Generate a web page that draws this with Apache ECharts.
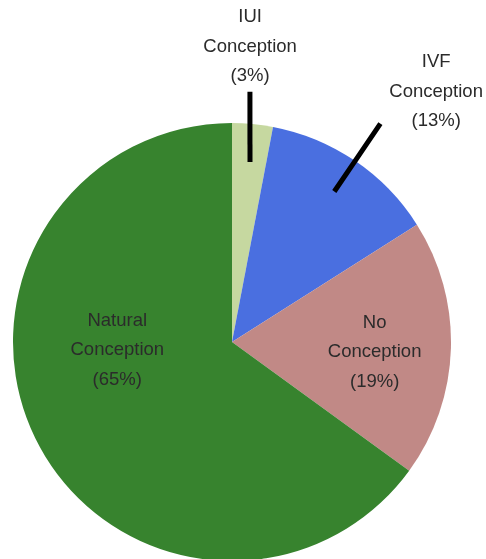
<!DOCTYPE html>
<html>
<head>
    <meta charset="UTF-8" />
    <title>conception outcome</title>
    <script src="https://cdn.jsdelivr.net/npm/echarts@6/dist/echarts.min.js"></script>
    <style>
        html, body { margin: 0; padding: 0; background: #fff; }
        #main { width: 486px; height: 559px; }
    </style>
</head>
<body>
    <div id="main"></div>
    <script>
        var categories = ['IUI\nConception', 'IVF\nConception', 'No\nConception', 'Natural\nConception'];
        var shares = [3, 13, 19, 65];
        var sliceColors = ['#c6d8a0', '#4a6fe0', '#c18986', '#37832e'];

        // pie geometry (px)
        var CX = 232, CY = 342, R = 219;
        // label centre: angle (deg clockwise from 12 o'clock) + distance from centre
        // lineFrom / lineTo: radial extent of the black leader line (optional own angles)
        var labelSpots = [
            { a: 3.5, d: 296, lineFrom: 181, lineTo: 251, aFrom: 5.7, aTo: 4.1 },
            { a: 39.2, d: 323, lineFrom: 182, lineTo: 264 },
            { a: 94, d: 143 },
            { a: 266, d: 115 }
        ];

        var total = shares.reduce(function (s, v) { return s + v; }, 0);
        var midAngle = [];
        var acc = 0;
        shares.forEach(function (v) {
            midAngle.push((acc + v / 2) / total * 360);
            acc += v;
        });

        function pt(angDeg, d) {
            var t = angDeg * Math.PI / 180;
            return [CX + d * Math.sin(t), CY - d * Math.cos(t)];
        }

        var base = {
            type: 'pie',
            center: [CX, CY],
            radius: R,
            startAngle: 90,
            clockwise: true,
            avoidLabelOverlap: false,
            emphasis: { disabled: true }
        };

        var myChart = echarts.init(document.getElementById('main'));
        var option = {
            animation: false,
            series: [
                // the slices
                Object.assign({}, base, {
                    z: 2,
                    label: { show: false },
                    labelLine: { show: false },
                    itemStyle: { borderWidth: 0 },
                    data: categories.map(function (name, i) {
                        return { name: name, value: shares[i], itemStyle: { color: sliceColors[i] } };
                    })
                }),
                // transparent copy on top, carrying labels + leader lines so the lines sit above the slices
                Object.assign({}, base, {
                    z: 3,
                    silent: true,
                    itemStyle: { color: 'rgba(0,0,0,0)', borderWidth: 0 },
                    label: {
                        show: true,
                        position: 'outside',
                        formatter: '{b}\n({c}%)',
                        color: '#2b2b2b',
                        fontFamily: 'Liberation Sans',
                        fontSize: 18.5,
                        lineHeight: 29.5,
                        align: 'center'
                    },
                    labelLine: {
                        show: true,
                        smooth: false,
                        lineStyle: { color: '#000', width: 5 }
                    },
                    labelLayout: function (p) {
                        var s = labelSpots[p.dataIndex];
                        var c = pt(s.a, s.d);
                        var out = { x: c[0], y: c[1], align: 'center', verticalAlign: 'middle' };
                        if (s.lineFrom) {
                            var m = midAngle[p.dataIndex];
                            var a = pt(s.aFrom != null ? s.aFrom : m, s.lineFrom);
                            var b = pt(s.aTo != null ? s.aTo : m, s.lineTo);
                            out.labelLinePoints = [a, [(a[0] + b[0]) / 2, (a[1] + b[1]) / 2], b];
                        }
                        return out;
                    },
                    data: categories.map(function (name, i) {
                        return {
                            name: name,
                            value: shares[i],
                            labelLine: { show: !!labelSpots[i].lineFrom }
                        };
                    })
                })
            ]
        };
        myChart.setOption(option);
    </script>
</body>
</html>
